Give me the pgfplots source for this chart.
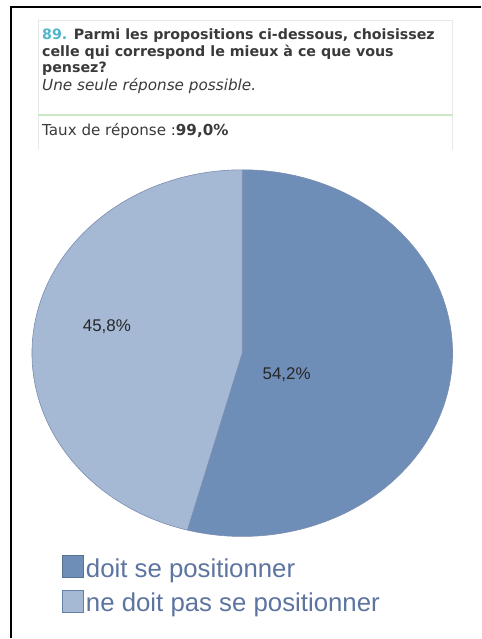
\documentclass[border=0pt]{standalone}
\usepackage{pgfplots}
\usepackage{pgfplotstable}
\pgfplotsset{compat=1.18}
\usepackage{fontspec}
\setmainfont{Liberation Sans}
\newfontfamily\qfont{DejaVu Sans}
\definecolor{darkslice}{HTML}{6E8EB8}
\definecolor{lightslice}{HTML}{A5B9D5}
\definecolor{sliceedge}{HTML}{7A8DAE}
\definecolor{legtext}{HTML}{5D74A0}
\definecolor{qtext}{HTML}{3A3A3A}
\definecolor{qnum}{HTML}{4FB5C8}
\definecolor{boxline}{HTML}{E4EAE4}
\definecolor{greenline}{HTML}{CDE7C6}
\pgfplotstableread{
label value
doit 54.2
nedoit 45.8
}\piedata
\begin{document}
\begin{tikzpicture}[x=1bp,y=1bp]
\path (0,0) rectangle (481,639);
% frame
\draw[line width=1.3bp] (11,0) -- (11,632) -- (481,632);
% question box
\draw[boxline, line width=0.8bp] (38,489) -- (38,619) -- (453,619) -- (453,489);
\draw[greenline, line width=2bp] (38,524) -- (453,524);
\node[anchor=base west, inner sep=0pt, font=\qfont\fontsize{14.3}{16}\selectfont\bfseries, text=qtext] at (42,599) {\textcolor{qnum}{89.} Parmi les propositions ci-dessous, choisissez};
\node[anchor=base west, inner sep=0pt, font=\qfont\fontsize{14.3}{16}\selectfont\bfseries, text=qtext] at (42,582) {celle qui correspond le mieux à ce que vous};
\node[anchor=base west, inner sep=0pt, font=\qfont\fontsize{14.3}{16}\selectfont\bfseries, text=qtext] at (42,566) {pensez?};
\node[anchor=base west, inner sep=0pt, font=\qfont\fontsize{15.3}{17}\selectfont\itshape, text=qtext] at (42,548) {Une seule réponse possible.};
\node[anchor=base west, inner sep=0pt, font=\qfont\fontsize{15.2}{17}\selectfont, text=qtext] at (42,503) {Taux de réponse :\textbf{99,0\%}};
\pgfplotstablegetelem{0}{value}\of\piedata \let\va\pgfplotsretval
\pgfplotstablegetelem{1}{value}\of\piedata \let\vb\pgfplotsretval
\pgfmathsetmacro{\angA}{90-3.6*\va}
\pgfmathsetmacro{\angB}{90+3.6*\vb}
\begin{axis}[
  at={(242.5bp,285.5bp)}, anchor=origin,
  width=421bp, height=367bp, scale only axis,
  xmin=-1, xmax=1, ymin=-1, ymax=1,
  hide axis, clip=false,
  legend style={draw=none, fill=none, font=\fontsize{25.9}{28}\selectfont, text=legtext,
    at={(0.071,-0.05)}, anchor=north west, inner sep=0pt, row sep=9bp,
    cells={anchor=west}},
  legend image code/.code={\draw[#1, line width=1bp] (0bp,-9bp) rectangle (21bp,13bp);},
]
\addlegendimage{fill=darkslice, draw=darkslice!80!black}
\addlegendentry{doit se positionner}
\addlegendimage{fill=lightslice, draw=darkslice!90!black}
\addlegendentry{ne doit pas se positionner}
\filldraw[fill=darkslice, draw=sliceedge, line width=0.6bp] (axis cs:0,0) -- (axis cs:0,1) arc[start angle=90, end angle=\angA, radius=1] -- cycle;
\filldraw[fill=lightslice, draw=sliceedge, line width=0.6bp] (axis cs:0,0) -- (axis cs:0,1) arc[start angle=90, end angle=\angB, radius=1] -- cycle;
\node[font=\fontsize{17}{20}\selectfont, text=black!85] at (axis cs:0.211,-0.117) {54,2\%};
\node[font=\fontsize{17}{20}\selectfont, text=black!85] at (axis cs:-0.644,0.144) {45,8\%};
\end{axis}
\end{tikzpicture}
\end{document}
